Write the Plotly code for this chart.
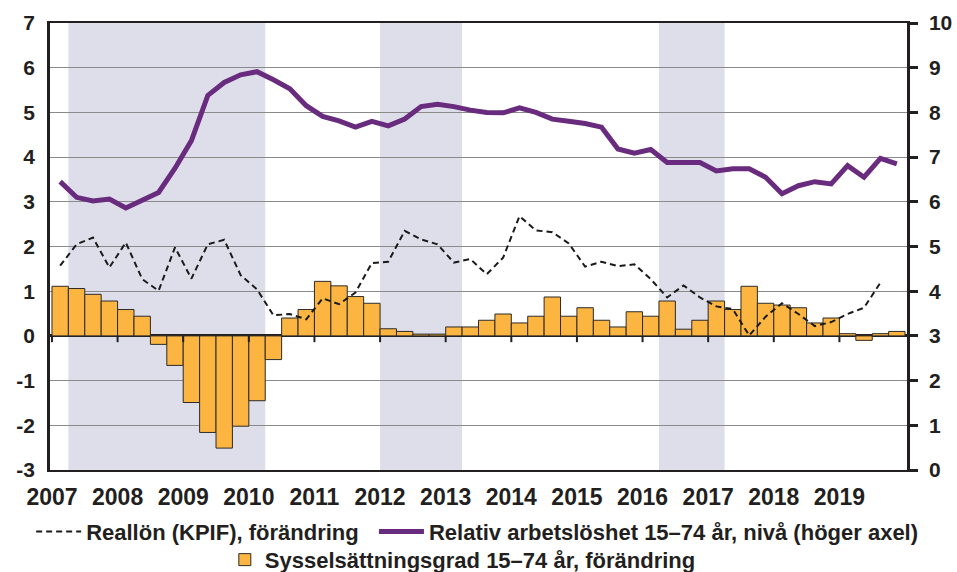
import plotly.graph_objects as go

# Quarterly data 2007Q1 - 2019Q4
start_year = 2007
n_quarters = 52
quarters = [start_year + 0.125 + 0.25 * i for i in range(n_quarters)]

sysselsattning = [1.11, 1.06, 0.93, 0.78, 0.59, 0.44, -0.19, -0.66,
                  -1.49, -2.16, -2.51, -2.02, -1.45, -0.53, 0.40, 0.59,
                  1.22, 1.12, 0.88, 0.73, 0.16, 0.10, 0.04, 0.04,
                  0.20, 0.20, 0.35, 0.49, 0.29, 0.44, 0.87, 0.44,
                  0.63, 0.35, 0.20, 0.54, 0.44, 0.78, 0.15, 0.35,
                  0.78, 0.59, 1.11, 0.73, 0.69, 0.63, 0.29, 0.40,
                  0.05, -0.10, 0.05, 0.10]

reallon = [1.57, 2.05, 2.20, 1.53, 2.09, 1.27, 1.01, 1.98,
           1.28, 2.05, 2.15, 1.36, 1.04, 0.46, 0.49, 0.37,
           0.84, 0.71, 0.97, 1.63, 1.66, 2.35, 2.16, 2.05,
           1.64, 1.72, 1.38, 1.75, 2.68, 2.36, 2.32, 2.07,
           1.55, 1.66, 1.56, 1.60, 1.27, 0.86, 1.13, 0.86,
           0.66, 0.60, 0.01, 0.43, 0.73, 0.49, 0.22, 0.31,
           0.49, 0.63, 1.19, None]

arbetsloshet = [6.45, 6.10, 6.02, 6.06, 5.86, 6.05, 6.21, 6.75,
                7.37, 8.38, 8.67, 8.84, 8.91, 8.73, 8.53, 8.15,
                7.91, 7.81, 7.67, 7.80, 7.70, 7.85, 8.13, 8.18,
                8.13, 8.05, 8.00, 7.99, 8.10, 8.00, 7.85, 7.80,
                7.75, 7.67, 7.18, 7.09, 7.17, 6.88, 6.88, 6.88,
                6.69, 6.74, 6.74, 6.55, 6.18, 6.36, 6.45, 6.40,
                6.81, 6.55, 6.97, 6.85]

years = list(range(2007, 2020))
year_labels = [str(y) for y in years]
left_ticks = list(range(-3, 8))
left_labels = [str(v) for v in left_ticks]  # plain hyphen minus
right_ticks = list(range(0, 11))
right_labels = [str(v) for v in right_ticks]

# Shaded periods (start, end) in years
shaded = [(2007.25, 2010.25), (2012.0, 2013.25), (2016.25, 2017.25)]

FONT = "Liberation Sans, Arial, sans-serif"
TXT = "#231f20"
LEG_FONT = dict(family=FONT, size=22, color=TXT, weight="bold")

fig = go.Figure()

fig.add_trace(go.Bar(
    x=quarters, y=sysselsattning, width=0.25,
    marker=dict(color="#fcb541", line=dict(color="#2b2b2b", width=1)),
    name="Sysselsättningsgrad 15–74 år, förändring",
    legend="legend3", yaxis="y",
))

fig.add_trace(go.Scatter(
    x=quarters, y=reallon, mode="lines",
    line=dict(color="#1a1a1a", width=2, dash="6px,4px"),
    name="Reallön (KPIF), förändring", yaxis="y", legend="legend",
))

fig.add_trace(go.Scatter(
    x=quarters, y=arbetsloshet, mode="lines",
    line=dict(color="#692b7e", width=5),
    name="Relativ arbetslöshet 15–74 år, nivå (höger axel)", yaxis="y2",
    legend="legend2",
))

shapes = []
for a, b in shaded:
    shapes.append(dict(type="rect", xref="x", yref="y domain", x0=a, x1=b,
                       y0=0, y1=1, fillcolor="#dddee9", line=dict(width=0),
                       layer="below"))
for y in years:
    shapes.append(dict(type="line", xref="x", yref="y", x0=y, x1=y,
                       y0=0, y1=-0.14, line=dict(color="#231f20", width=2),
                       layer="above"))

fig.update_layout(
    width=957, height=572,
    margin=dict(l=50, r=50, t=23, b=102, autoexpand=False),
    plot_bgcolor="white", paper_bgcolor="white",
    shapes=shapes,
    barmode="overlay",
    xaxis=dict(range=[2006.97, 2020.03], tickmode="array", tickvals=years,
               ticktext=year_labels, ticks="", showgrid=False,
               showline=True, mirror=True, linecolor="#231f20", linewidth=1.5,
               ticklabelstandoff=6, automargin=False,
               tickfont=dict(family=FONT, size=23, color=TXT, weight="bold"),
               zeroline=False),
    yaxis=dict(range=[-3, 7], tickmode="array", tickvals=left_ticks,
               ticktext=left_labels, automargin=False,
               showgrid=True, gridcolor="#8a8a8a", gridwidth=1,
               zeroline=True, zerolinecolor="#231f20", zerolinewidth=3,
               showline=True, linecolor="#231f20", linewidth=2.5, ticks="",
               ticklabelstandoff=8,
               tickfont=dict(family=FONT, size=21, color=TXT, weight="bold")),
    yaxis2=dict(range=[0, 10], tickmode="array", tickvals=right_ticks,
                ticktext=right_labels, automargin=False,
                overlaying="y", side="right", showgrid=False, zeroline=False,
                showline=True, linecolor="#231f20", linewidth=2.5,
                ticks="outside", ticklen=8, tickwidth=2.5, tickcolor="#231f20",
                ticklabelstandoff=7,
                tickfont=dict(family=FONT, size=21, color=TXT, weight="bold")),
    legend=dict(orientation="h", x=-0.022, xanchor="left", y=-0.091, yanchor="top",
                font=LEG_FONT, itemwidth=45, bgcolor="rgba(0,0,0,0)"),
    legend2=dict(orientation="h", x=0.378, xanchor="left", y=-0.091, yanchor="top",
                 font=LEG_FONT, itemwidth=45, bgcolor="rgba(0,0,0,0)"),
    legend3=dict(orientation="h", x=0.204, xanchor="left", y=-0.154, yanchor="top",
                 font=LEG_FONT, bgcolor="rgba(0,0,0,0)"),
    showlegend=True,
)

fig.write_html("out.html", config={"displayModeBar": False},
               post_script="document.body.style.margin='0';")
